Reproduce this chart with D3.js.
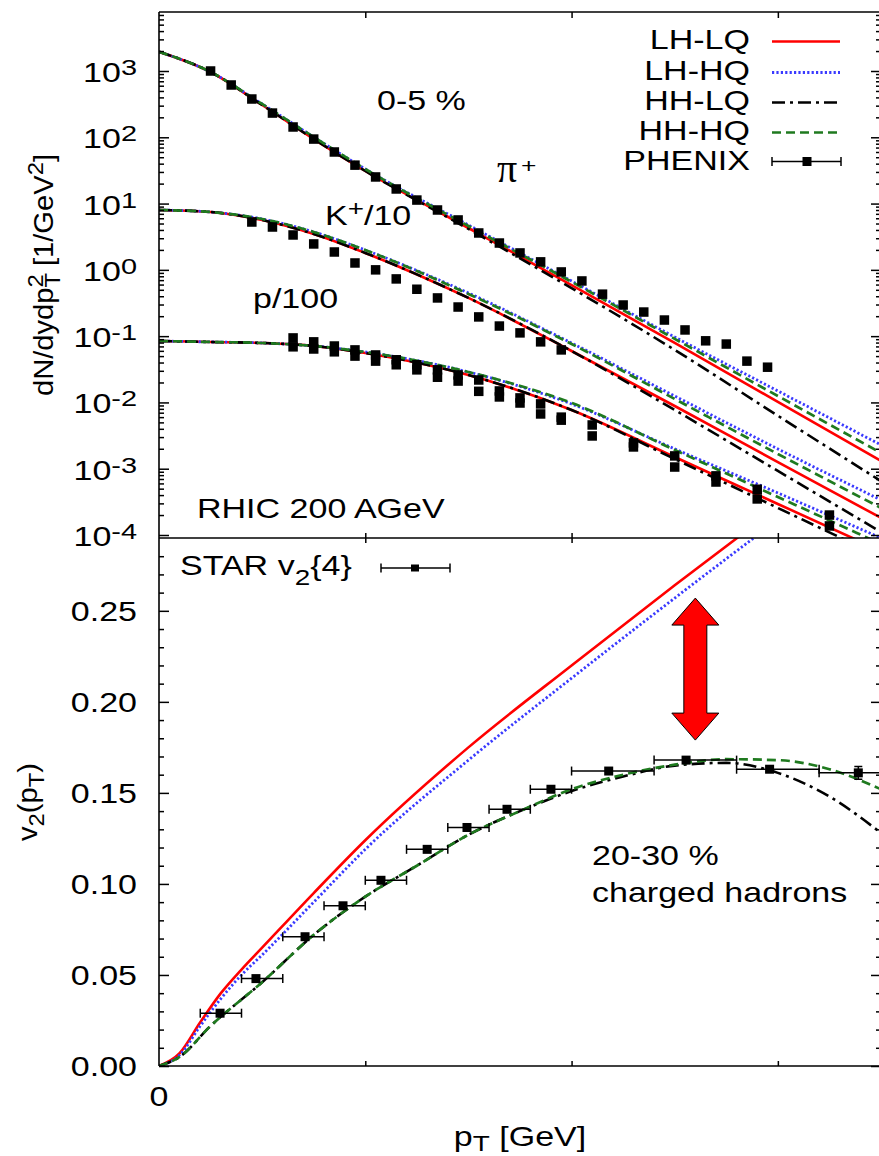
<!DOCTYPE html>
<html>
<head>
<meta charset="utf-8">
<script src="https://cdn.jsdelivr.net/npm/d3@7"></script>
<style>
  html, body { margin: 0; padding: 0; background: #fff; }
  svg { display: block; font-family: "Liberation Sans", Arial, Helvetica, sans-serif; }
</style>
</head>
<body>
<svg id="chart" width="879" height="1156"></svg>
<script>
// ---------------- model curves: spectra (pT grid in GeV) ----------------
const specPt = [0, 0.25, 0.5, 0.75, 1.0, 1.5, 2.0, 2.5, 3.0, 3.5];

const pionLHLQ = [1950, 965, 307, 94, 31.0, 4.28, 0.59, 0.079, 0.0102, 0.00131];
const pionLHHQ = [1950, 965, 318, 101, 33.2, 4.75, 0.68, 0.097, 0.0149, 0.00228];
const pionHHLQ = [1950, 965, 307, 94, 31.0, 4.14, 0.53, 0.062, 0.0063, 0.00065];
const pionHHHQ = [1950, 965, 318, 101, 33.2, 4.59, 0.66, 0.091, 0.0125, 0.00173];

const kaonLHLQ = [8.0, 7.46, 5.65, 3.48, 1.80, 0.377, 0.0597, 0.00883, 0.00126, 0.000181];
const kaonLHHQ = [8.0, 7.46, 5.85, 3.73, 1.99, 0.448, 0.0788, 0.0125, 0.00199, 0.000337];
const kaonHHLQ = [8.0, 7.46, 5.65, 3.48, 1.80, 0.377, 0.0597, 0.00769, 0.000925, 0.000111];
const kaonHHHQ = [8.0, 7.46, 5.85, 3.73, 1.99, 0.433, 0.0762, 0.01127, 0.00167, 0.000256];

const protonLHLQ = [0.0845, 0.0817, 0.0788, 0.0711, 0.0557, 0.0259, 0.00769, 0.00150, 0.000294, 0.0000574];
const protonLHHQ = [0.0845, 0.0817, 0.0788, 0.0711, 0.0577, 0.0288, 0.00948, 0.00199, 0.000431, 0.0000900];
const protonHHLQ = [0.0845, 0.0817, 0.0788, 0.0711, 0.0557, 0.0259, 0.00769, 0.00140, 0.000256, 0.0000467];
const protonHHHQ = [0.0845, 0.0817, 0.0788, 0.0711, 0.0577, 0.0288, 0.00982, 0.00192, 0.000375, 0.0000733];

// ---------------- PHENIX spectra ----------------
const pionPt = [0.25, 0.35, 0.45, 0.55, 0.65, 0.75, 0.85, 0.95, 1.05, 1.15, 1.25, 1.35, 1.45, 1.55,
                1.65, 1.75, 1.85, 1.95, 2.05, 2.15, 2.25, 2.35, 2.45, 2.55, 2.65, 2.75, 2.85, 2.95];
const pionVal = [1000, 615, 378, 232, 143, 94, 60, 38, 25.2, 16.6, 11.3, 8.0, 5.66, 3.6,
                 2.54, 1.80, 1.32, 0.93, 0.68, 0.43, 0.295, 0.231, 0.175, 0.124, 0.085, 0.076, 0.042, 0.034];

const kaonPt = [0.45, 0.55, 0.65, 0.75, 0.85, 0.95, 1.05, 1.15, 1.25, 1.35, 1.45, 1.55, 1.65, 1.75, 1.85, 1.95];
const kaonVal = [5.27, 4.43, 3.36, 2.46, 1.86, 1.27, 1.0, 0.73, 0.51, 0.377, 0.275, 0.195, 0.142, 0.112, 0.082, 0.062];

const protonPt = [0.65, 0.75, 0.85, 0.95, 1.05, 1.15, 1.25, 1.35, 1.45, 1.55, 1.65, 1.75, 1.85, 1.95,
                  2.1, 2.3, 2.5, 2.7, 2.9, 3.25];
const protonValA = [0.094, 0.082, 0.071, 0.062, 0.052, 0.044, 0.037, 0.031, 0.026, 0.0218, 0.0149, 0.0117, 0.0095, 0.0060,
                    0.00457, 0.00245, 0.00156, 0.00078, 0.00049, 0.00020];
const protonValB = [0.069, 0.064, 0.058, 0.050, 0.042, 0.037, 0.031, 0.024, 0.021, 0.0147, 0.0121, 0.0098, 0.0067, 0.0054,
                    0.00312, 0.00213, 0.00106, 0.00063, 0.00035, 0.000137];

// ---------------- elliptic flow v2(pT) ----------------
const v2PtL = [0, 0.1, 0.2, 0.3, 0.4, 0.5, 0.75, 1.0, 1.5, 2.0, 2.5, 3.0];
const v2LHLQ = [0, 0.007, 0.024, 0.040, 0.053, 0.065, 0.095, 0.124, 0.175, 0.220, 0.264, 0.307];
const v2LHHQ = [0, 0.006, 0.022, 0.037, 0.050, 0.061, 0.090, 0.119, 0.168, 0.213, 0.257, 0.300];

const v2PtH = [0, 0.1, 0.25, 0.5, 0.75, 1.0, 1.25, 1.5, 1.75, 2.0, 2.25, 2.5, 2.75, 3.0, 3.25, 3.5];
const v2HHLQ = [0, 0.005, 0.022, 0.046, 0.072, 0.093, 0.110, 0.127, 0.140, 0.151, 0.159, 0.165, 0.1665, 0.161, 0.148, 0.128];
const v2HHHQ = [0, 0.005, 0.022, 0.046, 0.072, 0.093, 0.110, 0.127, 0.140, 0.152, 0.160, 0.1655, 0.1685, 0.168, 0.163, 0.152];

// STAR v2{4}, charged hadrons 20-30 %
const starPt  = [0.296, 0.470, 0.708, 0.892, 1.076, 1.30, 1.493, 1.687, 1.90, 2.18, 2.555, 2.96, 3.39];
const starV2  = [0.029, 0.048, 0.071, 0.088, 0.102, 0.119, 0.131, 0.141, 0.152, 0.162, 0.168, 0.163, 0.161];
const starErr = [0, 0, 0, 0, 0, 0, 0, 0, 0, 0, 0, 0.0015, 0.0035];
const starBinLo = [0.2, 0.4, 0.6, 0.8, 1.0, 1.2, 1.4, 1.6, 1.8, 2.0, 2.4, 2.8, 3.2];
const starBinHi = [0.4, 0.6, 0.8, 1.0, 1.2, 1.4, 1.6, 1.8, 2.0, 2.4, 2.8, 3.2, 3.6];

// ---------------- ticks and labels ----------------
const xTickValues = [0, 1, 2, 3];
const xTickLabels = ["0", "", "", ""];
const logTickExponents = [3, 2, 1, 0, -1, -2, -3, -4];
const v2TickValues = [0, 0.05, 0.10, 0.15, 0.20, 0.25];
const v2TickLabels = ["0.00", "0.05", "0.10", "0.15", "0.20", "0.25"];
const legendNames = ["LH-LQ", "LH-HQ", "HH-LQ", "HH-HQ"];

// gap annotation (double arrow) between the two v2 curve families
const arrowPt = 2.6, arrowTop = 0.257, arrowBottom = 0.179;

// ================= drawing =================
const svg = d3.select("#chart");
const X0 = 159, X1 = 881, TOP0 = 12, MID = 538, BOT = 1066;
const TXT_SX = 1.26;

const x = d3.scaleLinear().domain([0, 3.5]).range([X0, X1]);
const yS = d3.scaleLog().domain([1e-4, 1e3]).range([535, 71]);
const yV = d3.scaleLinear().domain([0, 0.29]).range([BOT, MID]);

const styles = {
  "LH-LQ": { color: "#ff0000", dash: null, w: 2.6 },
  "LH-HQ": { color: "#3a3aff", dash: "2.2,2.2", w: 2.8 },
  "HH-LQ": { color: "#000000", dash: "13,5,3,5", w: 2.6 },
  "HH-HQ": { color: "#1f7a1f", dash: "9,5", w: 2.7 }
};

const defs = svg.append("defs");
defs.append("clipPath").attr("id", "clipTop").append("rect")
  .attr("x", X0).attr("y", TOP0).attr("width", X1 - X0).attr("height", MID - TOP0);
defs.append("clipPath").attr("id", "clipBot").append("rect")
  .attr("x", X0).attr("y", MID).attr("width", X1 - X0).attr("height", BOT - MID);

// text helper: horizontal stretch, optional rotation, sub/superscripts
function label(parent, px, py, parts, o = {}) {
  const size = o.size || 27, sx = o.sx || TXT_SX;
  const g = parent.append("g").attr("transform",
    `translate(${px},${py})` + (o.rotate ? ` rotate(${o.rotate})` : "") + ` scale(${sx},1)`);
  const t = g.append("text").attr("text-anchor", o.anchor || "start")
    .attr("font-size", size).attr("fill", "#000");
  if (o.family) t.attr("font-family", o.family);
  let shift = 0, prev = null;
  parts.forEach(p => {
    const [s, kind, stack] = typeof p === "string" ? [p, null, false] : p;
    const target = kind === "sup" ? -(o.supRise || 9) : kind === "sub" ? (o.subDrop || 7) : 0;
    const ts = t.append("tspan").text(s).attr("dy", target - shift);
    if (kind) ts.attr("font-size", size * (o.scriptScale || 0.82));
    if (stack && prev) ts.attr("dx", -prev.node().getComputedTextLength());
    shift = target;
    prev = ts;
  });
  return t;
}

// ---------- top panel: spectra ----------
const topG = svg.append("g");
const lineS = d3.line().x(d => x(d[0])).y(d => yS(d[1])).curve(d3.curveMonotoneX);
const curvesTop = topG.append("g").attr("clip-path", "url(#clipTop)");

const spectraSets = [
  { "LH-LQ": pionLHLQ, "LH-HQ": pionLHHQ, "HH-LQ": pionHHLQ, "HH-HQ": pionHHHQ },
  { "LH-LQ": kaonLHLQ, "LH-HQ": kaonLHHQ, "HH-LQ": kaonHHLQ, "HH-HQ": kaonHHHQ },
  { "LH-LQ": protonLHLQ, "LH-HQ": protonLHHQ, "HH-LQ": protonHHLQ, "HH-HQ": protonHHHQ }
];
legendNames.forEach(name => {
  spectraSets.forEach(set => {
    const pts = specPt.map((p, i) => [p, set[name][i]]);
    curvesTop.append("path").attr("d", lineS(pts))
      .attr("fill", "none").attr("stroke", styles[name].color)
      .attr("stroke-width", styles[name].w).attr("stroke-dasharray", styles[name].dash);
  });
});

const dataTop = topG.append("g").attr("clip-path", "url(#clipTop)");
function squares(pts, vals, sz) {
  dataTop.selectAll(null).data(pts.map((p, i) => [p, vals[i]])).enter().append("rect")
    .attr("x", d => x(d[0]) - sz / 2).attr("y", d => yS(d[1]) - sz / 2)
    .attr("width", sz).attr("height", sz).attr("fill", "#000");
}
squares(pionPt, pionVal, 9.5);
squares(kaonPt, kaonVal, 9.5);
squares(protonPt, protonValA, 9.5);
squares(protonPt, protonValB, 9.5);

// ---------- bottom panel: v2 ----------
const botG = svg.append("g");
const lineV = d3.line().x(d => x(d[0])).y(d => yV(d[1])).curve(d3.curveMonotoneX);
const curvesBot = botG.append("g").attr("clip-path", "url(#clipBot)");
const v2Sets = {
  "LH-LQ": [v2PtL, v2LHLQ], "LH-HQ": [v2PtL, v2LHHQ],
  "HH-LQ": [v2PtH, v2HHLQ], "HH-HQ": [v2PtH, v2HHHQ]
};
legendNames.forEach(name => {
  const [pts, vals] = v2Sets[name];
  curvesBot.append("path").attr("d", lineV(pts.map((p, i) => [p, vals[i]])))
    .attr("fill", "none").attr("stroke", styles[name].color)
    .attr("stroke-width", styles[name].w).attr("stroke-dasharray", styles[name].dash);
});

// STAR points with bin-width bars
const starG = botG.append("g");
starPt.forEach((p, i) => {
  const cy = yV(starV2[i]);
  const xl = Math.min(x(starBinLo[i]), 879), xr = Math.min(x(starBinHi[i]), 879);
  starG.append("line").attr("x1", xl).attr("x2", xr).attr("y1", cy).attr("y2", cy)
    .attr("stroke", "#000").attr("stroke-width", 1.5);
  [x(starBinLo[i]), x(starBinHi[i])].forEach(cx => {
    if (cx < 879) starG.append("line").attr("x1", cx).attr("x2", cx).attr("y1", cy - 4.5).attr("y2", cy + 4.5)
      .attr("stroke", "#000").attr("stroke-width", 1.5);
  });
  if (starErr[i] > 0) {
    const y1 = yV(starV2[i] + starErr[i]), y2 = yV(starV2[i] - starErr[i]), cx = x(p);
    starG.append("line").attr("x1", cx).attr("x2", cx).attr("y1", y1).attr("y2", y2)
      .attr("stroke", "#000").attr("stroke-width", 1.5);
    [y1, y2].forEach(yy => starG.append("line").attr("x1", cx - 4).attr("x2", cx + 4)
      .attr("y1", yy).attr("y2", yy).attr("stroke", "#000").attr("stroke-width", 1.5));
  }
  starG.append("rect").attr("x", x(p) - 4.5).attr("y", cy - 4.5)
    .attr("width", 9).attr("height", 9).attr("fill", "#000");
});

// double arrow
{
  const cx = x(arrowPt), yt = yV(arrowTop), yb = yV(arrowBottom);
  const hw = 23.5, sw = 11.5, hl = 27;
  const pts = [[cx, yt], [cx + hw, yt + hl], [cx + sw, yt + hl], [cx + sw, yb - hl], [cx + hw, yb - hl],
               [cx, yb], [cx - hw, yb - hl], [cx - sw, yb - hl], [cx - sw, yt + hl], [cx - hw, yt + hl]];
  botG.append("polygon").attr("points", pts.map(p => p.join(",")).join(" "))
    .attr("fill", "#ff0000").attr("stroke", "#000").attr("stroke-width", 1);
}

// ---------- axes ----------
const axG = svg.append("g");
function styleAxis(g) {
  g.select(".domain").remove();
  g.selectAll("line").attr("stroke", "#000").attr("stroke-width", 1.5);
  g.selectAll("text").remove();
}
const logMajors = logTickExponents.map(e => Math.pow(10, e));
const logMinors = [];
for (let e = -5; e <= 3; e++) for (let k = 2; k <= 9; k++) {
  const v = k * Math.pow(10, e), yy = yS(v);
  if (yy > TOP0 + 1 && yy < MID - 1) logMinors.push(v);
}
const v2Minors = d3.range(1, 29).map(i => i / 100).filter(v => Math.abs(v * 20 - Math.round(v * 20)) > 1e-6);

axG.append("g").attr("transform", `translate(${X0},0)`)
  .call(d3.axisLeft(yS).tickValues(logMajors).tickSize(-10).tickSizeOuter(0)).call(styleAxis);
axG.append("g").attr("transform", `translate(${X0},0)`)
  .call(d3.axisLeft(yS).tickValues(logMinors).tickSize(-5).tickSizeOuter(0)).call(styleAxis);
axG.append("g").attr("transform", `translate(${X1},0)`)
  .call(d3.axisRight(yS).tickValues(logMajors).tickSize(-10).tickSizeOuter(0)).call(styleAxis);
axG.append("g").attr("transform", `translate(${X1},0)`)
  .call(d3.axisRight(yS).tickValues(logMinors).tickSize(-5).tickSizeOuter(0)).call(styleAxis);

axG.append("g").attr("transform", `translate(${X0},0)`)
  .call(d3.axisLeft(yV).tickValues(v2TickValues).tickSize(-10).tickSizeOuter(0)).call(styleAxis);
axG.append("g").attr("transform", `translate(${X0},0)`)
  .call(d3.axisLeft(yV).tickValues(v2Minors).tickSize(-5).tickSizeOuter(0)).call(styleAxis);
axG.append("g").attr("transform", `translate(${X1},0)`)
  .call(d3.axisRight(yV).tickValues(v2TickValues).tickSize(-10).tickSizeOuter(0)).call(styleAxis);
axG.append("g").attr("transform", `translate(${X1},0)`)
  .call(d3.axisRight(yV).tickValues(v2Minors).tickSize(-5).tickSizeOuter(0)).call(styleAxis);

const xt = xTickValues.filter(v => v > 0);
axG.append("g").attr("transform", `translate(0,${TOP0})`)
  .call(d3.axisTop(x).tickValues(xt).tickSize(-6).tickSizeOuter(0)).call(styleAxis);
axG.append("g").attr("transform", `translate(0,${MID})`)
  .call(d3.axisBottom(x).tickValues(xt).tickSize(-5).tickSizeOuter(0)).call(styleAxis);
axG.append("g").attr("transform", `translate(0,${MID})`)
  .call(d3.axisTop(x).tickValues(xt).tickSize(-5).tickSizeOuter(0)).call(styleAxis);
axG.append("g").attr("transform", `translate(0,${BOT})`)
  .call(d3.axisBottom(x).tickValues(xt).tickSize(-5).tickSizeOuter(0)).call(styleAxis);

// frame
[[X0, TOP0, X1, TOP0], [X0, MID, X1, MID], [X0, BOT, X1, BOT], [X0, TOP0, X0, BOT], [X1, TOP0, X1, BOT]]
  .forEach(s => axG.append("line").attr("x1", s[0]).attr("y1", s[1]).attr("x2", s[2]).attr("y2", s[3])
    .attr("stroke", "#000").attr("stroke-width", 1.6));

// ---------- tick labels ----------
const labG = svg.append("g");
logTickExponents.forEach(e => {
  label(labG, 137, yS(Math.pow(10, e)) + 11, ["10", [String(e), "sup"]], { anchor: "end", supRise: 7, scriptScale: 0.85 });
});
v2TickValues.forEach((v, i) => label(labG, 137, yV(v) + 10, [v2TickLabels[i]], { anchor: "end" }));
xTickValues.forEach((v, i) => {
  if (xTickLabels[i]) label(labG, x(v), 1106, [xTickLabels[i]], { anchor: "middle" });
});

// axis titles
label(labG, 53, 275, ["dN/dydp", ["T", "sub"], ["2", "sup", true], " [1/GeV", ["2", "sup"], "]"],
  { rotate: -90, anchor: "middle", sx: 1.08, supRise: 10 });
label(labG, 37, 802, ["v", ["2", "sub"], "(p", ["T", "sub"], ")"],
  { rotate: -90, anchor: "middle", sx: 1.08 });
label(labG, 520, 1146, ["p", ["T", "sub"], " [GeV]"], { anchor: "middle", subDrop: 5 });

// annotations
label(labG, 377, 110, ["0-5 %"]);
label(labG, 497, 182, ["π"], { family: "Liberation Serif, DejaVu Serif, serif", size: 40, sx: 1.0 });
label(labG, 521, 173, ["+"], { size: 21 });
label(labG, 325, 225, ["K", ["+", "sup"], "/10"]);
label(labG, 253, 308, ["p/100"]);
label(labG, 197, 518, ["RHIC 200 AGeV"]);
label(labG, 180, 575, ["STAR v", ["2", "sub"], "{4}"], { subDrop: 10 });
label(labG, 592, 865, ["20-30 %"]);
label(labG, 592, 902, ["charged hadrons"]);

// ---------- legend ----------
const legG = svg.append("g");
const legBase = [49, 80, 110, 140, 170];
legendNames.forEach((name, i) => {
  label(legG, 750, legBase[i], [name], { anchor: "end" });
  legG.append("line").attr("x1", 772).attr("x2", 840)
    .attr("y1", legBase[i] - 7.5).attr("y2", legBase[i] - 7.5)
    .attr("stroke", styles[name].color).attr("stroke-width", styles[name].w)
    .attr("stroke-dasharray", styles[name].dash);
});
label(legG, 750, legBase[4], ["PHENIX"], { anchor: "end" });
{
  const ly = legBase[4] - 8.5;
  legG.append("line").attr("x1", 772).attr("x2", 841).attr("y1", ly).attr("y2", ly).attr("stroke", "#000").attr("stroke-width", 1.5);
  [772, 841].forEach(cx => legG.append("line").attr("x1", cx).attr("x2", cx).attr("y1", ly - 4.5).attr("y2", ly + 4.5)
    .attr("stroke", "#000").attr("stroke-width", 1.5));
  legG.append("rect").attr("x", 807 - 4.5).attr("y", ly - 4.5).attr("width", 9).attr("height", 9).attr("fill", "#000");
}
{
  const ly = 568;
  legG.append("line").attr("x1", 381).attr("x2", 450).attr("y1", ly).attr("y2", ly).attr("stroke", "#000").attr("stroke-width", 1.5);
  [381, 450].forEach(cx => legG.append("line").attr("x1", cx).attr("x2", cx).attr("y1", ly - 4.5).attr("y2", ly + 4.5)
    .attr("stroke", "#000").attr("stroke-width", 1.5));
  legG.append("rect").attr("x", 415 - 4).attr("y", ly - 3.5).attr("width", 8).attr("height", 7).attr("fill", "#000");
}
</script>
</body>
</html>
